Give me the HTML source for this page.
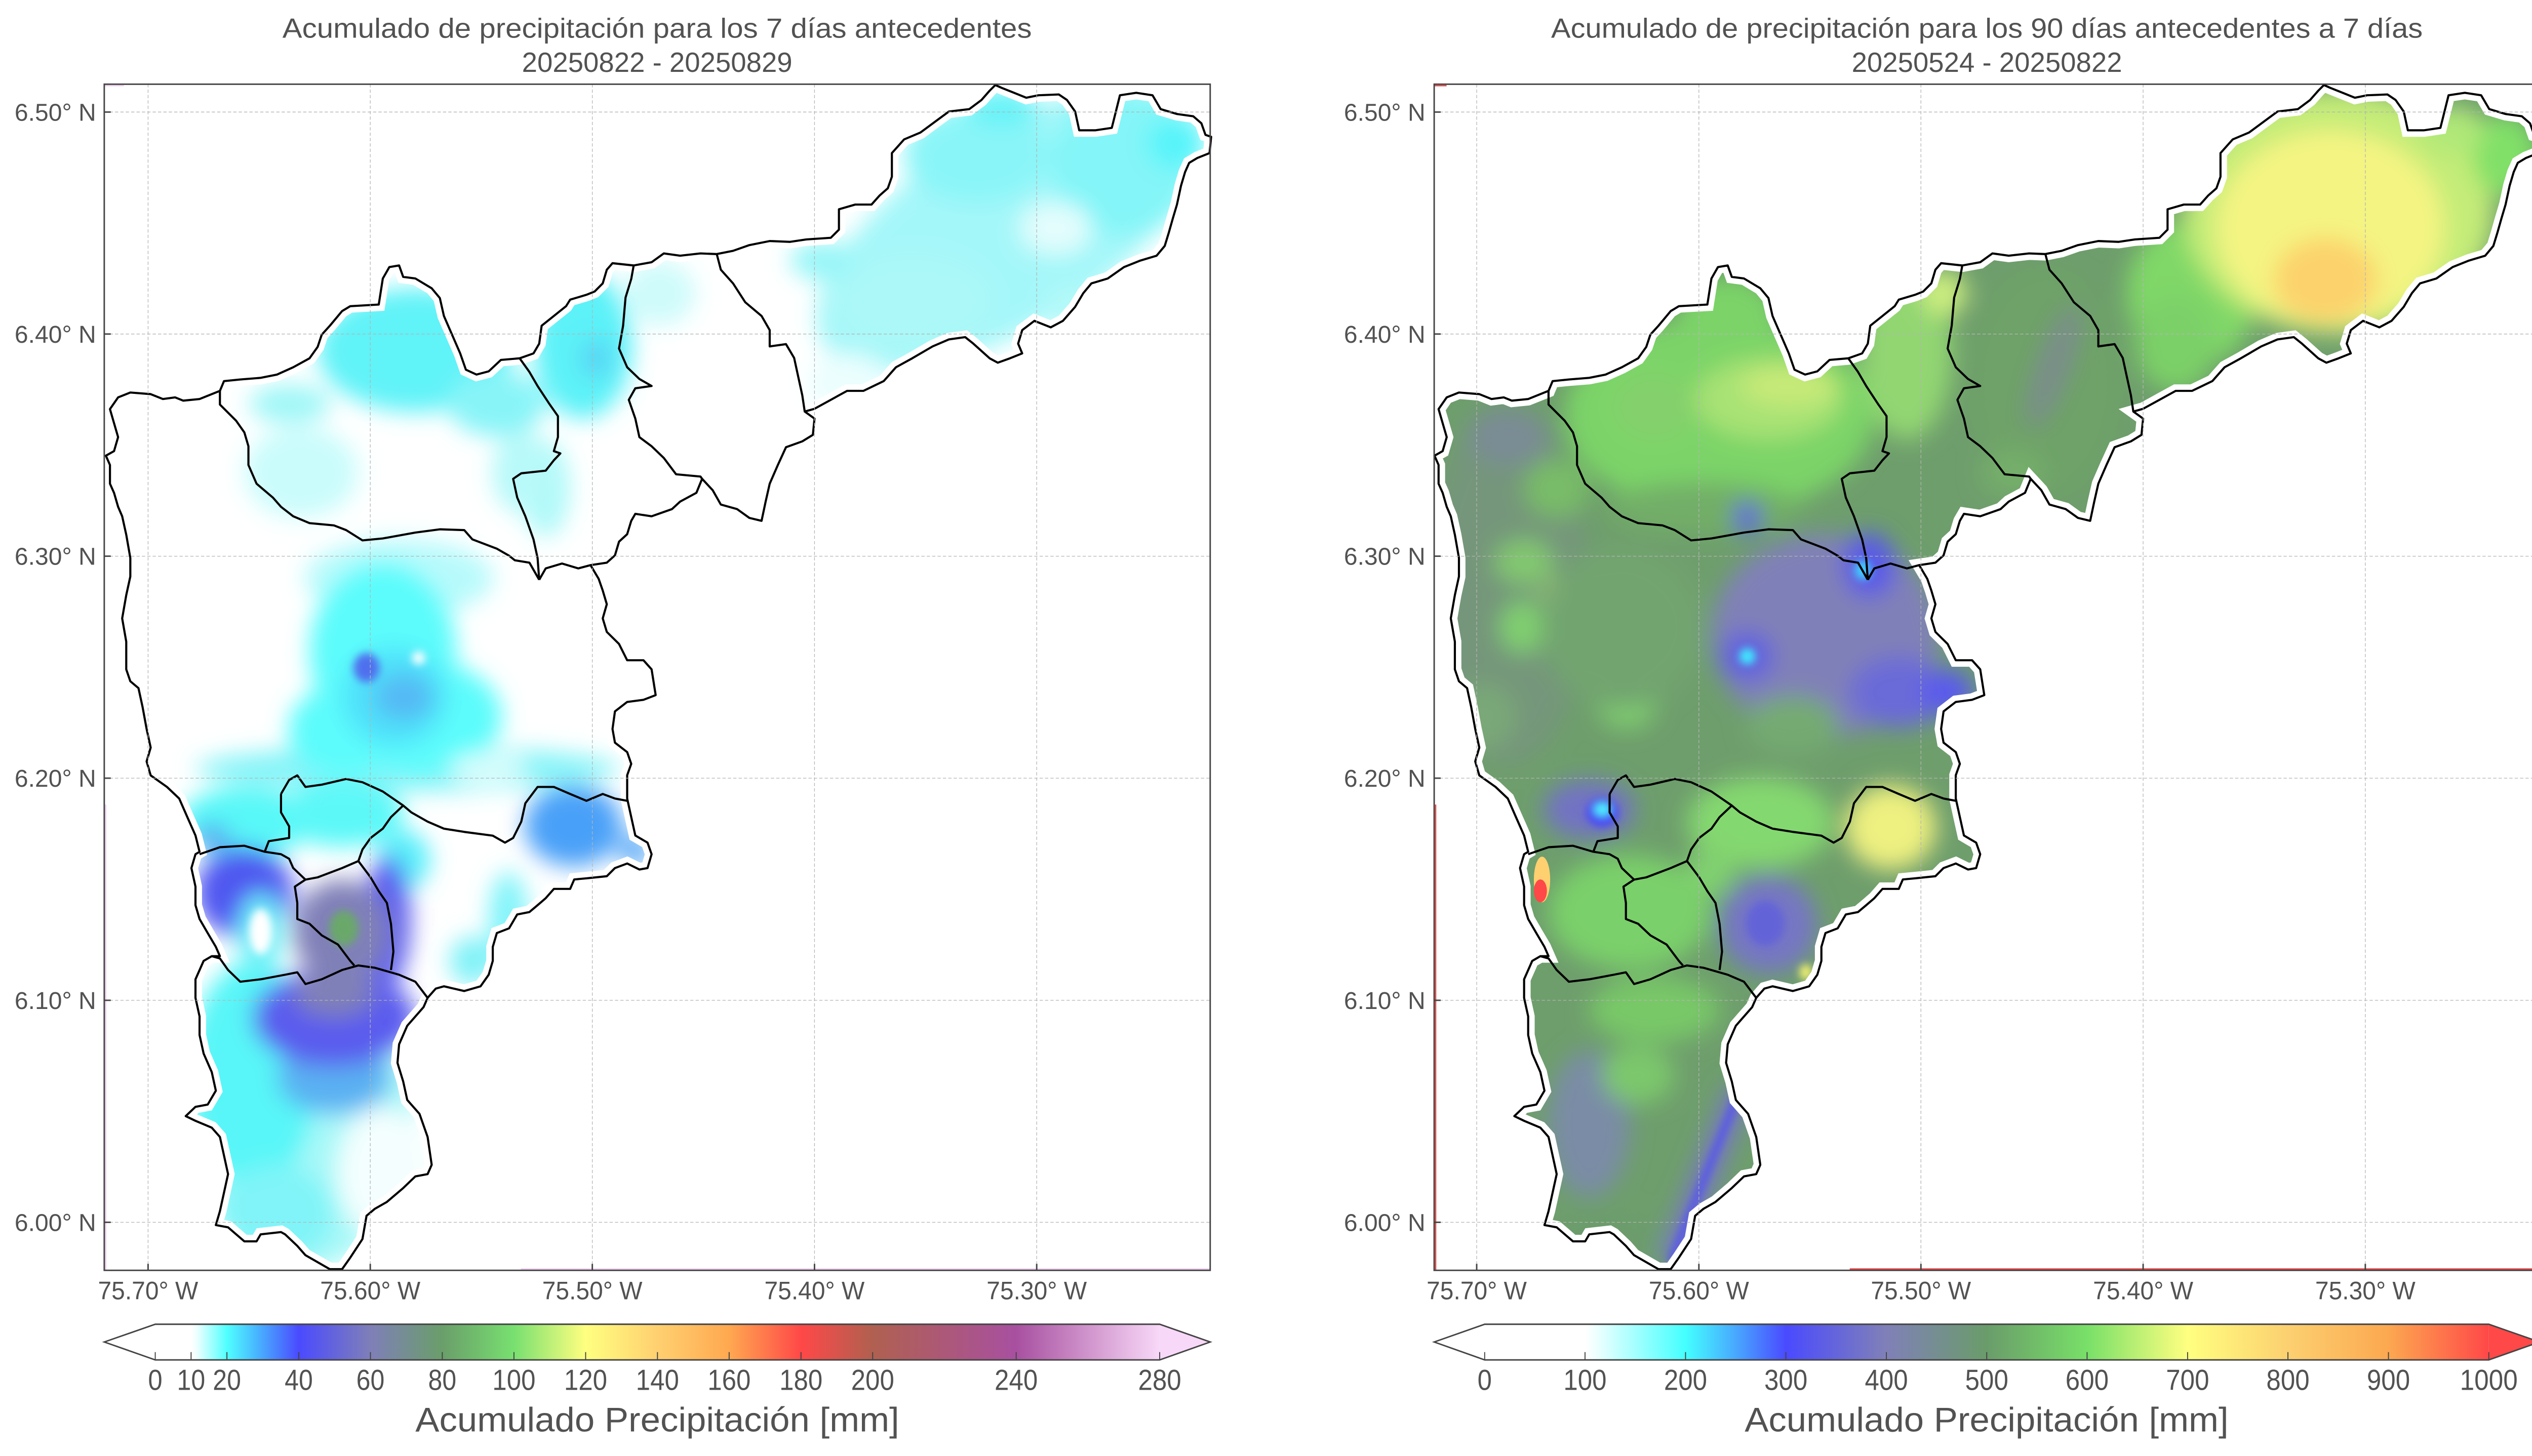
<!DOCTYPE html>
<html><head><meta charset="utf-8"><style>
html,body{margin:0;padding:0;background:#fff;}
svg{display:block;}
text{font-family:"Liberation Sans Narrow","Liberation Sans",sans-serif;fill:#525252;}
</style></head><body>
<svg xmlns="http://www.w3.org/2000/svg" xmlns:xlink="http://www.w3.org/1999/xlink" width="5044" height="2876" viewBox="0 0 1568 894" preserveAspectRatio="none">
<defs>
<polygon id="outer" points="72.5,244 80,241 92.5,242 100,245 107.5,244 112.5,246 122.5,245 135,240 137.5,234 147.5,233 160,232 170,230 180,225.5 190,220 195,213 197.5,205.5 202.5,200 210,191 215,188 232.5,187 235,171 239,164 245,163 247.5,170 255,171 265,177 270,183 272.5,194 277.5,205.5 282.5,217 286,227 292.5,230 300,228 307.5,221 319,220 327.5,217 331,211 332.5,200 340,194 347.5,188 350,184 360,181 365,179 370,174 372.5,165.6 376,161.6 389,163 400,161 407.5,155.6 417.5,157 430,155.6 440,156 450,154 460,150.5 472.5,148 485,148.5 495,147 510,146 515,141 515,128.5 525,125.6 535,125.6 540,120 545,115.6 547.5,108.5 547.5,94 555,85.6 565,81.4 575,74 582.5,68.5 595,67 602.5,61.4 607.5,55.7 611,52.2 615,54 622.5,57 630,60 637.5,58.5 650,58 655,61.4 660,68.5 662.5,80 672.5,80 682.5,78.5 685,68.5 687.5,58.5 697.5,57 707.5,58.5 712.5,67 722.5,70 732.5,71.4 737.5,75.7 740,82.8 743.5,84 742.5,94 735,97 730,100 727.5,105.6 725,114 722.5,125.6 720,134 717.5,142.8 715,151 710,157 700,160 690,164 680,171 670,174 665,180 660,188.4 652.5,197 645,201 635,197 627.5,202.7 625,211 627.5,217 620,220 612.5,222.7 607.5,220 597.5,211 592.5,207 582.5,208.4 572.5,212.7 560,220 550,225.5 542.5,234 530,240 520,240 510,245.5 500,251 494,252.7 500,257 499,267 492.5,271 482.5,274.6 477.5,285.5 472.5,297 470,308 467.5,319.8 460,318 452.5,312.6 442.5,309.8 437.5,301 431,294 427.5,302.6 417.5,308 412.5,312.6 400,317 390,315.5 387.5,319.8 385,328 380,332.6 377.5,341 372.5,345.5 362.5,347 367.5,355.4 370,362.6 372.5,371 370,379.7 372.5,388 380,395.4 385,405.4 395,405.4 400,411 402.5,426.8 395,429.7 385,431 377.5,436.8 376,447.6 377.5,456 385,461.8 387.5,469 385,476 385,490.3 387.5,501.7 390,513 397.5,517.4 400,524.5 397.5,533 392.5,533.9 385,530.2 377.5,533 372.5,538 360,539.3 352.5,540 350,545.8 340,545.8 335,551.5 330,555.8 325,560 317.5,561.5 312.5,570 305,572.9 302.5,581.4 302.5,590 300,598.5 295,605.6 285,608.5 272.5,605.6 267.5,607 262.5,612.7 260,618.4 255,624.1 250,629.8 245,641.2 244,652.6 247.5,664 250,675.4 257.5,683.9 262.5,698.1 265,715.2 262.5,720.9 255,722.3 247.5,729.5 237.5,738 230,742.3 225,746.5 222.5,760.8 215,772.2 210,779.3 202.5,779.3 195,775 187.5,770.7 182.5,765 175,757.9 172.5,756.5 160,757.9 157.5,762.2 150,762.2 145,757.9 140,753.6 132.5,752.2 135,743.7 137.5,732.3 140,720.9 137.5,709.5 135,698.1 130,692.4 120,688.2 114,685.3 120,679.6 127.5,678.2 132.5,669.7 130,658.3 125,646.9 122.5,635.5 122.5,624.1 120,612.7 120,601.3 125,590 130,587.1 135,587.1 132.5,581.4 127.5,572.9 122.5,564.3 120,555.8 120,544.4 117.5,533 120,524.5 122.5,523 120,513 115,501.7 110,490.3 102.5,483.2 92.5,476.1 90,467.5 92.5,459 90,447.6 87.5,434 85,422.5 80,418.3 77.5,411 77.5,394 75,379.7 77.5,365.4 80,354 80,342.6 77.5,328.3 75,317 72.5,311.2 70,302.6 67.5,297 67.5,285.5 65,279.8 70,277 72.5,268.4 70,259.8 67.5,251.2"/>
<g id="inner" fill="none" stroke="#000" stroke-width="1.3" stroke-linejoin="round">
<polyline points="135,240 135,248.4 145,258.4 150,265.5 152.5,274 152.5,285.5 157.5,297 167.5,305.5 172.5,311.2 180,317 190,321.2 205,322.6 212.5,325.5 222.5,331.8 235,330.6 255,327 270,325 285,325.5 290,331.2 305,336.9 312.5,341.2 316,344 325,345.5 331,356"/>
<polyline points="319,220 325,228.4 330,237 337.5,248.4 342.5,255.5 342.5,268.4 340,277 344,278.4 340,282.6 335,289 320,290.6 315,294 317.5,305.5 322.5,317 327.5,331.2 330,342.6 331,356"/>
<polyline points="331,356 335,349 345,346 355,349 362.5,347"/>
<polyline points="389,163 387.5,171.3 384,182.7 382.5,200 380,214 385,225.5 392.5,232.7 400,237 390,238.4 386,245.5 390,257 392.5,268.4 400,274 407.5,281.2 415,291.2 430,292.6 431,294"/>
<polyline points="440,156 442.5,165.6 450,174 457.5,185.6 467.5,194 472.5,202.7 472.5,212.7 482.5,211.3 487.5,219.8 490,231.3 492.5,242.7 494,252.7"/>
<polyline points="172.5,487.5 177.5,478.9 182.5,476.1 187.5,483.2 197.5,481.8 212.5,478.3 222.5,480.3 235,486 247.5,494.6 252.5,498.8 262.5,504.5 272.5,508.8 285,510.8 302.5,513.1 310,517.4 315,514.5 320,504.5 322.5,493.2 330,483.2 340,483.2 350,487.5 360,491.7 370,487.5 377.5,490.3 385,491.7"/>
<polyline points="172.5,487.5 172.5,498.8 177.5,507.4 177.5,514.5 165,516.5 162.5,523"/>
<polyline points="122.5,524.5 135,520.2 150,519.3 162.5,523 172.5,524.5 177.5,527.3 180,533 187.5,540.1 195,538.7 210,533 220,528.7"/>
<polyline points="247.5,494.6 240,501.7 235,508.8 227.5,514.5 222.5,521.6 220,528.7"/>
<polyline points="220,528.7 227.5,538.7 232.5,547.2 237.5,554.4 240,567.2 241.5,584.3 240,595.6"/>
<polyline points="187.5,540.1 181,544.4 182.5,554.4 182.5,564.3 190,567.2 197.5,574.3 207.5,580 215,590 217.5,592.8"/>
<polyline points="130,587.1 135,588.5 140,595.6 147.5,602.8 160,601.3 175,598.5 182.5,597 187.5,604.2 197.5,601.3 210,595.6 220,592.8 230,594.2 245,598.5 255,602.8 262.5,612.7"/>
</g>
<clipPath id="clipO"><use xlink:href="#outer"/></clipPath>
<filter id="bl" filterUnits="userSpaceOnUse" x="-100" y="-100" width="1900" height="1100"><feGaussianBlur stdDeviation="7"/></filter>
<filter id="bs" filterUnits="userSpaceOnUse" x="-100" y="-100" width="1900" height="1100"><feGaussianBlur stdDeviation="2.5"/></filter>
<linearGradient id="cbL" gradientUnits="userSpaceOnUse" x1="95.3" y1="0" x2="711.9" y2="0">
<stop offset="0" stop-color="#ffffff"/><stop offset="0.0357" stop-color="#ffffff"/><stop offset="0.041" stop-color="#f0ffff"/>
<stop offset="0.0714" stop-color="#50ffff"/><stop offset="0.1" stop-color="#48b8ff"/><stop offset="0.1429" stop-color="#4a4aff"/>
<stop offset="0.2143" stop-color="#7f7fb8"/><stop offset="0.2857" stop-color="#6a9e6a"/><stop offset="0.3571" stop-color="#78e070"/>
<stop offset="0.4286" stop-color="#ffff80"/><stop offset="0.5" stop-color="#ffd070"/><stop offset="0.5714" stop-color="#ffa850"/>
<stop offset="0.6429" stop-color="#ff4848"/><stop offset="0.7143" stop-color="#b06050"/><stop offset="0.857" stop-color="#a850a0"/>
<stop offset="1" stop-color="#f8d8f8"/>
</linearGradient>
<linearGradient id="cbR" gradientUnits="userSpaceOnUse" x1="911.4" y1="0" x2="1527.8" y2="0">
<stop offset="0" stop-color="#ffffff"/><stop offset="0.1" stop-color="#ffffff"/><stop offset="0.11" stop-color="#f0ffff"/>
<stop offset="0.2" stop-color="#44ffff"/><stop offset="0.25" stop-color="#48a8ff"/><stop offset="0.3" stop-color="#4a4aff"/>
<stop offset="0.4" stop-color="#8080b8"/><stop offset="0.5" stop-color="#6a9c6a"/><stop offset="0.6" stop-color="#78e068"/>
<stop offset="0.7" stop-color="#ffff80"/><stop offset="0.8" stop-color="#fcd070"/><stop offset="0.9" stop-color="#fca850"/>
<stop offset="1" stop-color="#ff4848"/>
</linearGradient>
</defs>
<rect x="0" y="0" width="1568" height="894" fill="#fff"/>

<!-- LEFT PANEL DATA -->
<g clip-path="url(#clipO)">
<rect x="0" y="0" width="800" height="800" fill="#fff"/>
<g filter="url(#bl)">
<ellipse cx="620" cy="140" rx="135" ry="60" transform="rotate(-32 620 140)" fill="#a4f7f9"/>
<ellipse cx="600" cy="95" rx="45" ry="30" fill="#8af5f8"/>
<ellipse cx="690" cy="100" rx="45" ry="45" fill="#84f5f8"/>
<ellipse cx="722" cy="88" rx="18" ry="16" fill="#56f4fa"/>
<ellipse cx="615" cy="66" rx="22" ry="12" fill="#66f3f8"/>
<ellipse cx="648" cy="140" rx="22" ry="16" fill="#e4fdfd"/>
<ellipse cx="560" cy="185" rx="50" ry="30" fill="#acf8f8"/>
<ellipse cx="520" cy="235" rx="25" ry="18" fill="#ecfefe"/>
<ellipse cx="505" cy="160" rx="20" ry="12" fill="#98f6f8"/>
<ellipse cx="660" cy="190" rx="20" ry="15" fill="#b4f9f9"/>
<ellipse cx="405" cy="180" rx="22" ry="20" fill="#cffbfb"/>
<ellipse cx="358" cy="212" rx="30" ry="45" fill="#5cf2f8"/>
<ellipse cx="366" cy="220" rx="10" ry="12" fill="#58d4f4"/>
<ellipse cx="335" cy="300" rx="15" ry="30" fill="#b0f9f9"/>
<ellipse cx="255" cy="215" rx="60" ry="38" fill="#60f3f8"/>
<ellipse cx="178" cy="248" rx="25" ry="12" fill="#a0f7f8"/>
<ellipse cx="305" cy="248" rx="30" ry="20" fill="#88f4f8"/>
<ellipse cx="185" cy="290" rx="35" ry="28" fill="#cafcfc"/>
<ellipse cx="320" cy="290" rx="18" ry="25" fill="#b8f9f9"/>
<ellipse cx="245" cy="355" rx="58" ry="24" fill="#b8fafc"/>
<ellipse cx="250" cy="472" rx="130" ry="14" fill="#86f4f8"/>
<ellipse cx="235" cy="400" rx="45" ry="55" fill="#5cfcfc"/>
<ellipse cx="258" cy="440" rx="50" ry="35" fill="#5cfcfc"/>
<ellipse cx="212" cy="448" rx="35" ry="28" fill="#5cfcfc"/>
<ellipse cx="242" cy="428" rx="32" ry="30" fill="#50e0fa"/>
<ellipse cx="248" cy="428" rx="18" ry="14" fill="#55b8f4"/>
<ellipse cx="300" cy="472" rx="24" ry="10" fill="#d8fdfd"/>
<ellipse cx="150" cy="505" rx="40" ry="22" fill="#58f8f8"/>
<ellipse cx="210" cy="500" rx="38" ry="20" fill="#5cf8f8"/>
<ellipse cx="130" cy="514" rx="12" ry="8" fill="#58a8f0"/>
<ellipse cx="352" cy="507" rx="30" ry="25" fill="#4aa0f8"/>
<ellipse cx="390" cy="522" rx="10" ry="10" fill="#5aaaf6"/>
<ellipse cx="248" cy="528" rx="16" ry="18" fill="#58f0fa"/>
<ellipse cx="312" cy="565" rx="12" ry="30" fill="#80f4fa"/>
<ellipse cx="290" cy="590" rx="14" ry="15" fill="#80f2f8"/>
<ellipse cx="185" cy="690" rx="70" ry="90" fill="#a8f8f8"/>
<ellipse cx="155" cy="660" rx="40" ry="70" fill="#58f6f8"/>
<ellipse cx="170" cy="745" rx="35" ry="30" fill="#80f4f8"/>
<ellipse cx="235" cy="720" rx="28" ry="40" fill="#f4fefe"/>
<ellipse cx="205" cy="662" rx="35" ry="22" fill="#5ab0f2"/>
<ellipse cx="205" cy="625" rx="50" ry="30" fill="#5a5cee"/>
<ellipse cx="150" cy="548" rx="30" ry="28" fill="#5056f0"/>
<ellipse cx="160" cy="572" rx="14" ry="24" fill="#70f0f8"/>
<ellipse cx="238" cy="565" rx="14" ry="40" fill="#5a5af0"/>
<ellipse cx="210" cy="572" rx="30" ry="32" fill="#8080b8"/>
<ellipse cx="205" cy="610" rx="25" ry="15" fill="#8080b8"/>
</g>
<g filter="url(#bs)">
<ellipse cx="225" cy="410" rx="8" ry="9" fill="#5070ee"/>
<ellipse cx="257" cy="404" rx="4" ry="4" fill="#ffffff"/>
<ellipse cx="211" cy="570" rx="9" ry="11" fill="#6aa86a"/>
<ellipse cx="160" cy="572" rx="7" ry="14" fill="#ffffff"/>
</g>
</g>
<use xlink:href="#outer" fill="none" stroke="#fff" stroke-width="8"/>
<use xlink:href="#outer" fill="none" stroke="#000" stroke-width="1.3" stroke-linejoin="round"/>
<use xlink:href="#inner"/>

<!-- RIGHT PANEL DATA -->
<g transform="translate(815.6,0)">
<g clip-path="url(#clipO)">
<rect x="0" y="0" width="800" height="800" fill="#6e9e6c"/>
<g filter="url(#bl)">
<ellipse cx="110" cy="360" rx="50" ry="110" fill="#74967a"/>
<ellipse cx="110" cy="268" rx="25" ry="18" fill="#7a8c94"/>
<ellipse cx="120" cy="345" rx="18" ry="14" fill="#82c870"/>
<ellipse cx="145" cy="366" rx="14" ry="12" fill="#b0e070"/>
<ellipse cx="119" cy="385" rx="14" ry="16" fill="#80d070"/>
<ellipse cx="140" cy="300" rx="20" ry="18" fill="#78bc68"/>
<ellipse cx="183" cy="433" rx="18" ry="14" fill="#80d070"/>
<ellipse cx="95" cy="440" rx="20" ry="20" fill="#7aa878"/>
<ellipse cx="240" cy="255" rx="95" ry="60" fill="#7cd468"/>
<ellipse cx="245" cy="195" rx="30" ry="25" fill="#7cd468"/>
<ellipse cx="270" cy="245" rx="45" ry="25" fill="#a8e274"/>
<ellipse cx="283" cy="237" rx="30" ry="12" fill="#c8ea78"/>
<ellipse cx="200" cy="250" rx="25" ry="20" fill="#84d06c"/>
<ellipse cx="230" cy="312" rx="60" ry="16" fill="#72ae68"/>
<ellipse cx="355" cy="215" rx="28" ry="55" fill="#92d672"/>
<ellipse cx="378" cy="180" rx="14" ry="14" fill="#cdee80"/>
<ellipse cx="440" cy="235" rx="45" ry="70" fill="#6ea268"/>
<ellipse cx="445" cy="225" rx="10" ry="40" fill="#7a8c8a" transform="rotate(20 445 225)"/>
<ellipse cx="420" cy="290" rx="20" ry="15" fill="#74ae6a"/>
<ellipse cx="530" cy="180" rx="40" ry="45" fill="#80d868"/>
<ellipse cx="620" cy="130" rx="95" ry="75" fill="#c4ec78"/>
<ellipse cx="615" cy="140" rx="70" ry="60" fill="#f4f482"/>
<ellipse cx="612" cy="172" rx="32" ry="26" fill="#fcd26c"/>
<ellipse cx="722" cy="95" rx="20" ry="25" fill="#80e068"/>
<ellipse cx="690" cy="80" rx="20" ry="15" fill="#b0e878"/>
<ellipse cx="520" cy="210" rx="25" ry="30" fill="#7cd068"/>
<ellipse cx="180" cy="385" rx="50" ry="50" fill="#72a470"/>
<ellipse cx="305" cy="390" rx="70" ry="62" fill="#8080b8"/>
<ellipse cx="350" cy="425" rx="30" ry="22" fill="#6a6ad8"/>
<ellipse cx="380" cy="425" rx="16" ry="14" fill="#5a5aee"/>
<ellipse cx="257" cy="403" rx="16" ry="15" fill="#6060e0"/>
<ellipse cx="332" cy="347" rx="16" ry="20" fill="#5a5ae8"/>
<ellipse cx="257" cy="318" rx="8" ry="10" fill="#6060e0"/>
<ellipse cx="285" cy="445" rx="28" ry="18" fill="#74aa72"/>
<ellipse cx="265" cy="505" rx="45" ry="28" fill="#84d870"/>
<ellipse cx="345" cy="508" rx="28" ry="26" fill="#eef080"/>
<ellipse cx="160" cy="497" rx="28" ry="18" fill="#7272c4"/>
<ellipse cx="185" cy="560" rx="50" ry="35" fill="#7ad06a"/>
<ellipse cx="270" cy="568" rx="30" ry="30" fill="#7676c4"/>
<ellipse cx="235" cy="535" rx="15" ry="15" fill="#80d070"/>
<ellipse cx="200" cy="620" rx="40" ry="20" fill="#78c868"/>
<ellipse cx="160" cy="690" rx="25" ry="45" fill="#7a8ca6"/>
<ellipse cx="190" cy="660" rx="22" ry="18" fill="#7cc86c"/>
<ellipse cx="170" cy="760" rx="35" ry="15" fill="#6c9c6c"/>
<line x1="253" y1="668" x2="210" y2="775" stroke="#7878c0" stroke-width="16"/>
</g>
<g filter="url(#bs)">
<ellipse cx="328" cy="350" rx="5" ry="6" fill="#40d0ff"/>
<ellipse cx="257" cy="403" rx="5" ry="5" fill="#40e8ff"/>
<ellipse cx="168" cy="499" rx="10" ry="9" fill="#4a4cf4"/>
<ellipse cx="168" cy="497" rx="5" ry="4" fill="#50f0ff"/>
<ellipse cx="268" cy="567" rx="12" ry="14" fill="#6464d8"/>
<line x1="253" y1="668" x2="210" y2="775" stroke="#5858e8" stroke-width="5"/>
<ellipse cx="293" cy="597" rx="4" ry="5" fill="#f0f070"/>
</g>
<ellipse cx="131" cy="540" rx="5" ry="14" fill="#ffd070"/>
<ellipse cx="130" cy="547" rx="4" ry="7" fill="#ff4848"/>
</g>
<use xlink:href="#outer" fill="none" stroke="#fff" stroke-width="8"/>
<use xlink:href="#outer" fill="none" stroke="#000" stroke-width="1.3" stroke-linejoin="round"/>
<use xlink:href="#inner"/>
</g>

<!-- GRIDLINES -->
<g stroke="#b4b4b4" stroke-width="0.4" stroke-dasharray="2 1.3" fill="none">
<line x1="90.9" y1="51.7" x2="90.9" y2="780"/><line x1="227.3" y1="51.7" x2="227.3" y2="780"/><line x1="363.6" y1="51.7" x2="363.6" y2="780"/><line x1="500" y1="51.7" x2="500" y2="780"/><line x1="636.4" y1="51.7" x2="636.4" y2="780"/>
<line x1="64" y1="68.8" x2="742.9" y2="68.8"/><line x1="64" y1="205.1" x2="742.9" y2="205.1"/><line x1="64" y1="341.5" x2="742.9" y2="341.5"/><line x1="64" y1="477.8" x2="742.9" y2="477.8"/><line x1="64" y1="614.2" x2="742.9" y2="614.2"/><line x1="64" y1="750.5" x2="742.9" y2="750.5"/>
<line x1="906.5" y1="51.7" x2="906.5" y2="780"/><line x1="1042.9" y1="51.7" x2="1042.9" y2="780"/><line x1="1179.2" y1="51.7" x2="1179.2" y2="780"/><line x1="1315.6" y1="51.7" x2="1315.6" y2="780"/><line x1="1452" y1="51.7" x2="1452" y2="780"/>
<line x1="880.4" y1="68.8" x2="1559" y2="68.8"/><line x1="880.4" y1="205.1" x2="1559" y2="205.1"/><line x1="880.4" y1="341.5" x2="1559" y2="341.5"/><line x1="880.4" y1="477.8" x2="1559" y2="477.8"/><line x1="880.4" y1="614.2" x2="1559" y2="614.2"/><line x1="880.4" y1="750.5" x2="1559" y2="750.5"/>
</g>

<!-- edge artifacts -->
<line x1="319.7" y1="779.2" x2="742.9" y2="779.2" stroke="#f0d0f0" stroke-width="0.9"/>
<line x1="64.9" y1="494" x2="64.9" y2="780" stroke="#f0d0f0" stroke-width="0.8"/>
<line x1="64" y1="52.6" x2="76" y2="52.6" stroke="#f0d0f0" stroke-width="0.8"/>
<line x1="1135.5" y1="779.2" x2="1559" y2="779.2" stroke="#e84848" stroke-width="0.9"/>
<line x1="881.3" y1="494" x2="881.3" y2="780" stroke="#e84848" stroke-width="0.8"/>
<line x1="880.4" y1="52.6" x2="888" y2="52.6" stroke="#e84848" stroke-width="0.8"/>

<!-- FRAMES -->
<rect x="64" y="51.7" width="678.9" height="728.3" fill="none" stroke="#444" stroke-width="0.9"/>
<rect x="880.4" y="51.7" width="678.6" height="728.3" fill="none" stroke="#444" stroke-width="0.9"/>
<g stroke="#444" stroke-width="0.9">
<line x1="64" y1="68.8" x2="68" y2="68.8"/><line x1="64" y1="205.1" x2="68" y2="205.1"/><line x1="64" y1="341.5" x2="68" y2="341.5"/><line x1="64" y1="477.8" x2="68" y2="477.8"/><line x1="64" y1="614.2" x2="68" y2="614.2"/><line x1="64" y1="750.5" x2="68" y2="750.5"/>
<line x1="90.9" y1="780" x2="90.9" y2="776"/><line x1="227.3" y1="780" x2="227.3" y2="776"/><line x1="363.6" y1="780" x2="363.6" y2="776"/><line x1="500" y1="780" x2="500" y2="776"/><line x1="636.4" y1="780" x2="636.4" y2="776"/>
<line x1="880.4" y1="68.8" x2="884.4" y2="68.8"/><line x1="880.4" y1="205.1" x2="884.4" y2="205.1"/><line x1="880.4" y1="341.5" x2="884.4" y2="341.5"/><line x1="880.4" y1="477.8" x2="884.4" y2="477.8"/><line x1="880.4" y1="614.2" x2="884.4" y2="614.2"/><line x1="880.4" y1="750.5" x2="884.4" y2="750.5"/>
<line x1="906.5" y1="780" x2="906.5" y2="776"/><line x1="1042.9" y1="780" x2="1042.9" y2="776"/><line x1="1179.2" y1="780" x2="1179.2" y2="776"/><line x1="1315.6" y1="780" x2="1315.6" y2="776"/><line x1="1452" y1="780" x2="1452" y2="776"/>
</g>

<!-- TITLES -->
<text x="403.4" y="23.2" font-size="17" text-anchor="middle" textLength="460" lengthAdjust="spacingAndGlyphs">Acumulado de precipitación para los 7 días antecedentes</text>
<text x="403.4" y="44.2" font-size="17" text-anchor="middle" textLength="166" lengthAdjust="spacingAndGlyphs">20250822 - 20250829</text>
<text x="1219.7" y="23.2" font-size="17" text-anchor="middle" textLength="535" lengthAdjust="spacingAndGlyphs">Acumulado de precipitación para los 90 días antecedentes a 7 días</text>
<text x="1219.7" y="44.2" font-size="17" text-anchor="middle" textLength="166" lengthAdjust="spacingAndGlyphs">20250524 - 20250822</text>

<!-- Y LABELS -->
<g font-size="15" text-anchor="end">
<text x="59" y="74.1" textLength="50" lengthAdjust="spacingAndGlyphs">6.50° N</text>
<text x="59" y="210.4" textLength="50" lengthAdjust="spacingAndGlyphs">6.40° N</text>
<text x="59" y="346.8" textLength="50" lengthAdjust="spacingAndGlyphs">6.30° N</text>
<text x="59" y="483.1" textLength="50" lengthAdjust="spacingAndGlyphs">6.20° N</text>
<text x="59" y="619.5" textLength="50" lengthAdjust="spacingAndGlyphs">6.10° N</text>
<text x="59" y="755.8" textLength="50" lengthAdjust="spacingAndGlyphs">6.00° N</text>
<text x="875" y="74.1" textLength="50" lengthAdjust="spacingAndGlyphs">6.50° N</text>
<text x="875" y="210.4" textLength="50" lengthAdjust="spacingAndGlyphs">6.40° N</text>
<text x="875" y="346.8" textLength="50" lengthAdjust="spacingAndGlyphs">6.30° N</text>
<text x="875" y="483.1" textLength="50" lengthAdjust="spacingAndGlyphs">6.20° N</text>
<text x="875" y="619.5" textLength="50" lengthAdjust="spacingAndGlyphs">6.10° N</text>
<text x="875" y="755.8" textLength="50" lengthAdjust="spacingAndGlyphs">6.00° N</text>
</g>
<!-- X LABELS -->
<g font-size="15.5" text-anchor="middle">
<text x="90.9" y="797.8" textLength="61.5" lengthAdjust="spacingAndGlyphs">75.70° W</text>
<text x="227.3" y="797.8" textLength="61.5" lengthAdjust="spacingAndGlyphs">75.60° W</text>
<text x="363.6" y="797.8" textLength="61.5" lengthAdjust="spacingAndGlyphs">75.50° W</text>
<text x="500" y="797.8" textLength="61.5" lengthAdjust="spacingAndGlyphs">75.40° W</text>
<text x="636.4" y="797.8" textLength="61.5" lengthAdjust="spacingAndGlyphs">75.30° W</text>
<text x="906.5" y="797.8" textLength="61.5" lengthAdjust="spacingAndGlyphs">75.70° W</text>
<text x="1042.9" y="797.8" textLength="61.5" lengthAdjust="spacingAndGlyphs">75.60° W</text>
<text x="1179.2" y="797.8" textLength="61.5" lengthAdjust="spacingAndGlyphs">75.50° W</text>
<text x="1315.6" y="797.8" textLength="61.5" lengthAdjust="spacingAndGlyphs">75.40° W</text>
<text x="1452" y="797.8" textLength="61.5" lengthAdjust="spacingAndGlyphs">75.30° W</text>
</g>

<!-- COLORBARS -->
<polygon points="64,824 95.3,813.1 95.3,835" fill="#ffffff"/>
<rect x="95.3" y="813.1" width="616.6" height="21.9" fill="url(#cbL)"/>
<polygon points="711.9,813.1 742.9,824 711.9,835" fill="#f8d8f8"/>
<polygon points="64,824 95.3,813.1 711.9,813.1 742.9,824 711.9,835 95.3,835" fill="none" stroke="#444" stroke-width="0.9"/>
<polygon points="880.4,824 911.4,813.1 911.4,835" fill="#ffffff"/>
<rect x="911.4" y="813.1" width="616.4" height="21.9" fill="url(#cbR)"/>
<polygon points="1527.8,813.1 1559,824 1527.8,835" fill="#ff4848"/>
<polygon points="880.4,824 911.4,813.1 1527.8,813.1 1559,824 1527.8,835 911.4,835" fill="none" stroke="#444" stroke-width="0.9"/>
<g stroke="#444" stroke-width="0.6">
<line x1="95.3" y1="835" x2="95.3" y2="830.2"/><line x1="117.3" y1="835" x2="117.3" y2="830.2"/><line x1="139.3" y1="835" x2="139.3" y2="830.2"/><line x1="183.4" y1="835" x2="183.4" y2="830.2"/><line x1="227.4" y1="835" x2="227.4" y2="830.2"/><line x1="271.5" y1="835" x2="271.5" y2="830.2"/><line x1="315.5" y1="835" x2="315.5" y2="830.2"/><line x1="359.5" y1="835" x2="359.5" y2="830.2"/><line x1="403.6" y1="835" x2="403.6" y2="830.2"/><line x1="447.6" y1="835" x2="447.6" y2="830.2"/><line x1="491.7" y1="835" x2="491.7" y2="830.2"/><line x1="535.7" y1="835" x2="535.7" y2="830.2"/><line x1="623.8" y1="835" x2="623.8" y2="830.2"/><line x1="711.9" y1="835" x2="711.9" y2="830.2"/>
<line x1="911.4" y1="835" x2="911.4" y2="830.2"/><line x1="973" y1="835" x2="973" y2="830.2"/><line x1="1034.7" y1="835" x2="1034.7" y2="830.2"/><line x1="1096.3" y1="835" x2="1096.3" y2="830.2"/><line x1="1158" y1="835" x2="1158" y2="830.2"/><line x1="1219.6" y1="835" x2="1219.6" y2="830.2"/><line x1="1281.2" y1="835" x2="1281.2" y2="830.2"/><line x1="1342.9" y1="835" x2="1342.9" y2="830.2"/><line x1="1404.5" y1="835" x2="1404.5" y2="830.2"/><line x1="1466.2" y1="835" x2="1466.2" y2="830.2"/><line x1="1527.8" y1="835" x2="1527.8" y2="830.2"/>
</g>
<g font-size="18" text-anchor="middle">
<text x="95.3" y="853.5" textLength="8.8" lengthAdjust="spacingAndGlyphs">0</text>
<text x="117.3" y="853.5" textLength="17.3" lengthAdjust="spacingAndGlyphs">10</text>
<text x="139.3" y="853.5" textLength="17.3" lengthAdjust="spacingAndGlyphs">20</text>
<text x="183.4" y="853.5" textLength="17.3" lengthAdjust="spacingAndGlyphs">40</text>
<text x="227.4" y="853.5" textLength="17.3" lengthAdjust="spacingAndGlyphs">60</text>
<text x="271.5" y="853.5" textLength="17.3" lengthAdjust="spacingAndGlyphs">80</text>
<text x="315.5" y="853.5" textLength="26.5" lengthAdjust="spacingAndGlyphs">100</text>
<text x="359.5" y="853.5" textLength="26.5" lengthAdjust="spacingAndGlyphs">120</text>
<text x="403.6" y="853.5" textLength="26.5" lengthAdjust="spacingAndGlyphs">140</text>
<text x="447.6" y="853.5" textLength="26.5" lengthAdjust="spacingAndGlyphs">160</text>
<text x="491.7" y="853.5" textLength="26.5" lengthAdjust="spacingAndGlyphs">180</text>
<text x="535.7" y="853.5" textLength="26.5" lengthAdjust="spacingAndGlyphs">200</text>
<text x="623.8" y="853.5" textLength="26.5" lengthAdjust="spacingAndGlyphs">240</text>
<text x="711.9" y="853.5" textLength="26.5" lengthAdjust="spacingAndGlyphs">280</text>
<text x="911.4" y="853.5" textLength="8.8" lengthAdjust="spacingAndGlyphs">0</text>
<text x="973" y="853.5" textLength="26.5" lengthAdjust="spacingAndGlyphs">100</text>
<text x="1034.7" y="853.5" textLength="26.5" lengthAdjust="spacingAndGlyphs">200</text>
<text x="1096.3" y="853.5" textLength="26.5" lengthAdjust="spacingAndGlyphs">300</text>
<text x="1158" y="853.5" textLength="26.5" lengthAdjust="spacingAndGlyphs">400</text>
<text x="1219.6" y="853.5" textLength="26.5" lengthAdjust="spacingAndGlyphs">500</text>
<text x="1281.2" y="853.5" textLength="26.5" lengthAdjust="spacingAndGlyphs">600</text>
<text x="1342.9" y="853.5" textLength="26.5" lengthAdjust="spacingAndGlyphs">700</text>
<text x="1404.5" y="853.5" textLength="26.5" lengthAdjust="spacingAndGlyphs">800</text>
<text x="1466.2" y="853.5" textLength="26.5" lengthAdjust="spacingAndGlyphs">900</text>
<text x="1527.8" y="853.5" textLength="35.5" lengthAdjust="spacingAndGlyphs">1000</text>
</g>
<text x="403.5" y="879" font-size="21" text-anchor="middle" textLength="297" lengthAdjust="spacingAndGlyphs">Acumulado Precipitación [mm]</text>
<text x="1219.5" y="879" font-size="21" text-anchor="middle" textLength="297" lengthAdjust="spacingAndGlyphs">Acumulado Precipitación [mm]</text>
</svg>
</body></html>
